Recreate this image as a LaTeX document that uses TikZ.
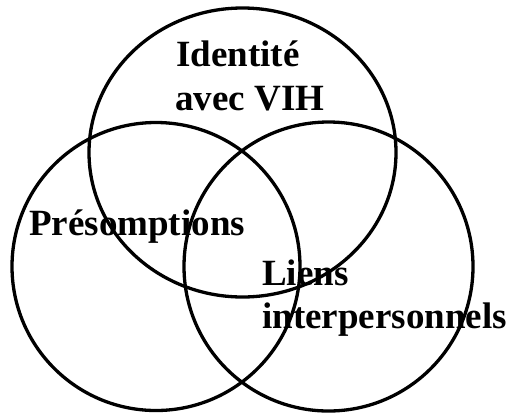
\documentclass[tikz,border=0pt]{standalone}
\usepackage{fontspec}
\setmainfont{Liberation Serif}
\begin{document}
\begin{tikzpicture}[x=1pt,y=1pt,
  lbl/.style={inner sep=0pt,anchor=base west,font=\fontsize{37}{44}\selectfont\bfseries},
  ring/.style={draw=black,line width=3.3pt}]
\useasboundingbox (0,0) rectangle (510,-413);
\node[lbl] (id1) at (176,-66) {Identité};
\node[lbl] (id2) at (175,-110) {avec VIH};
\node[lbl] (pre) at (29,-235) {Présomptions};
\node[lbl] (li1) at (262,-285) {Liens};
\node[lbl] (li2) at (262,-328) {interpersonnels};
\draw[ring] (242.5,-152.5) ellipse [x radius=153.5, y radius=144.5];
\draw[ring] (156,-266.5) circle [radius=144];
\draw[ring] (328.5,-266.5) circle [radius=144.5];
\end{tikzpicture}
\end{document}
